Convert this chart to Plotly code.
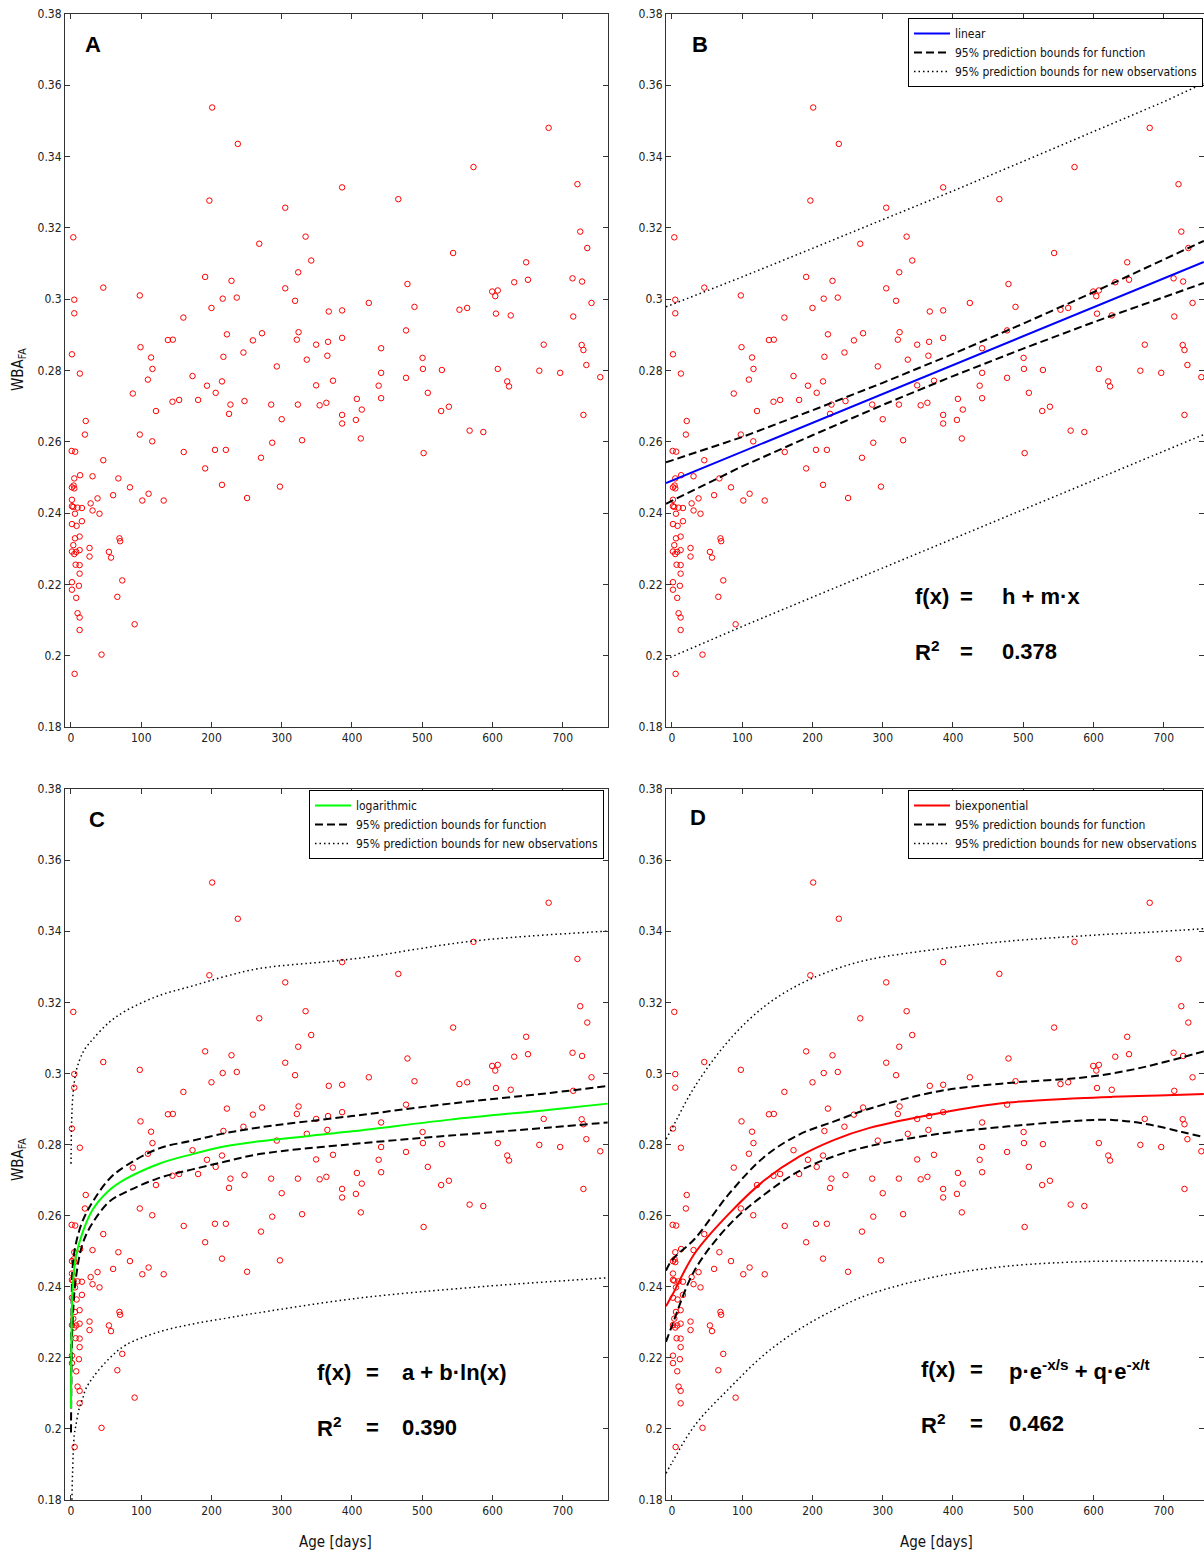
import plotly.graph_objects as go

# ---------------- data ----------------
AGE_DAYS = [201, 237.5, 197, 305, 334, 268, 3.3, 386, 466, 573, 680, 721, 725, 735, 544,
            46, 4.7, 4.7, 98, 191, 228.5, 216, 236, 200, 160, 305, 323.5, 342, 319, 367,
            222, 272, 259, 324, 321.5, 349, 366, 365, 335.7, 293, 217, 245.5, 138, 145, 99,
            114, 116, 109.5, 1.4, 12.7, 173, 193.6, 215, 206, 88, 144.5, 154, 181, 121, 247,
            227, 225, 285, 300, 323, 354, 363.6, 349, 373, 21, 19.8, 98, 115.7, 1, 6,
            46, 160.5, 205, 220.5, 270.5, 286.5, 329, 191, 4.7, 13, 30.7, 67.5, 84, 215, 297.5,
            1.4, 4.7, 3.8, 648, 631, 650.6, 714, 727.6, 741, 479, 599.6, 607.6, 604, 605, 626,
            715, 424, 386, 489, 553, 564, 477, 386, 441.5, 500.5, 501, 528, 441.5, 477, 438,
            441.5, 407, 414, 405.6, 386, 386, 412.6, 508, 527, 538, 502, 567.5, 587, 607.6, 621,
            623.6, 666.7, 696.4, 673, 727, 729.5, 733.7, 753.5, 729.5, 60, 110.5, 101.5, 132, 250.7,
            37.8, 28, 30.7, 40.6, 15.6, 1.4, 3.3, 1.4, 9.4, 5.7, 1.4, 8, 15.6, 12.3, 5.7,
            3.3, 1.4, 4.7, 7.5, 12.3, 26.4, 26.4, 69, 70, 54, 57, 6.6, 12.3, 12.3, 73,
            1.4, 11.3, 1.4, 7.5, 66, 9.4, 12.3, 12.3, 90.6, 43.5, 5.2]
WBA_FA = [0.3537, 0.3435, 0.3276, 0.3256, 0.3175, 0.3155, 0.3173, 0.3313, 0.328, 0.337, 0.348, 0.3322, 0.3189, 0.3143, 0.3129,
          0.3032, 0.2998, 0.296, 0.301, 0.3062, 0.3051, 0.3001, 0.3004, 0.2975, 0.2948, 0.303, 0.3075, 0.3108, 0.2995, 0.2965,
          0.2901, 0.2904, 0.2884, 0.2907, 0.2886, 0.2872, 0.288, 0.2841, 0.283, 0.2811, 0.2838, 0.285, 0.2885, 0.2886, 0.2865,
          0.2836, 0.2804, 0.2774, 0.2845, 0.2791, 0.2784, 0.2757, 0.2769, 0.2737, 0.2735, 0.2712, 0.2717, 0.2717, 0.2686, 0.2714,
          0.2704, 0.2678, 0.2704, 0.2663, 0.2704, 0.2702, 0.2709, 0.2758, 0.2771, 0.2658, 0.262, 0.262, 0.2601, 0.2574, 0.2572,
          0.2548, 0.2571, 0.2577, 0.2577, 0.2555, 0.2597, 0.2604, 0.2525, 0.2497, 0.2506, 0.2503, 0.2497, 0.2472, 0.2479, 0.2474,
          0.2472, 0.2469, 0.2477, 0.3103, 0.3047, 0.3054, 0.3058, 0.3049, 0.2989, 0.3042, 0.3021, 0.3024, 0.3008, 0.2959, 0.2954,
          0.2951, 0.2989, 0.2968, 0.2978, 0.297, 0.2975, 0.2912, 0.2891, 0.2862, 0.2835, 0.2804, 0.2801, 0.2793, 0.2779, 0.2757,
          0.2722, 0.272, 0.269, 0.2661, 0.2675, 0.2651, 0.2609, 0.2737, 0.2686, 0.2698, 0.2568, 0.2631, 0.2627, 0.2804, 0.2769,
          0.2755, 0.2799, 0.2793, 0.2872, 0.2871, 0.2857, 0.2815, 0.2781, 0.2675, 0.245, 0.2454, 0.2435, 0.2435, 0.2442,
          0.2441, 0.2427, 0.2407, 0.2398, 0.2414, 0.2437, 0.2417, 0.2419, 0.2415, 0.2398, 0.2369, 0.2364, 0.2377, 0.2334, 0.2329,
          0.231, 0.2292, 0.2285, 0.2291, 0.2296, 0.2302, 0.2278, 0.2329, 0.2321, 0.2291, 0.2275, 0.2255, 0.2254, 0.223, 0.2211,
          0.2206, 0.2196, 0.2185, 0.2162, 0.2165, 0.2119, 0.2107, 0.2072, 0.2088, 0.2003, 0.1949]

# panel B: linear fit and bounds
LIN_X = [-8.5, 100, 200, 300, 400, 500, 600, 700, 757]
LIN_FIT = [0.2484, 0.2572, 0.2653, 0.2734, 0.2815, 0.2896, 0.2977, 0.3058, 0.3104]
LIN_FUN_UP = [0.2542, 0.2613, 0.2688, 0.2765, 0.2846, 0.2931, 0.3019, 0.3110, 0.3163]
LIN_FUN_LO = [0.2426, 0.2531, 0.2618, 0.2703, 0.2784, 0.2861, 0.2935, 0.3006, 0.3045]
LIN_OBS_UP = [0.2978, 0.3062, 0.3142, 0.3222, 0.3303, 0.3386, 0.3470, 0.3553, 0.3605]
LIN_OBS_LO = [0.1990, 0.2082, 0.2164, 0.2246, 0.2327, 0.2408, 0.2490, 0.2572, 0.2620]

# panel C: logarithmic fit and bounds
LOG_X = [0.06, 1, 2.4, 7, 16.6, 31, 54.5, 78, 125.6, 173, 220, 268, 400, 540, 682, 764]
LOG_FIT = [0.2058, 0.2306, 0.2400, 0.2485, 0.2553, 0.2617, 0.2671, 0.2703, 0.2746, 0.2773, 0.2795, 0.2809, 0.2837, 0.2870, 0.2898, 0.2915]
LOG_FUN_UP = [0.2115, 0.2360, 0.2456, 0.2521, 0.2585, 0.2639, 0.2703, 0.2740, 0.2789, 0.2811, 0.2832, 0.2848, 0.2880, 0.2915, 0.2945, 0.2965]
LOG_FUN_LO = [0.1990, 0.2205, 0.2306, 0.2424, 0.2521, 0.2580, 0.2639, 0.2666, 0.2706, 0.2730, 0.2752, 0.2773, 0.2801, 0.2825, 0.2848, 0.2862]
LOG_OBS_X = [0.06, 1, 2.4, 4.7, 7, 11.8, 16.6, 21, 31, 54.5, 78, 125.6, 173, 220, 268, 406, 571, 764]
LOG_OBS_UP = [0.2746, 0.2870, 0.2929, 0.2975, 0.3004, 0.3035, 0.3058, 0.3072, 0.3096, 0.3144, 0.3176, 0.3219, 0.3246, 0.3273, 0.3295, 0.3323, 0.3372, 0.3400]
LOG_OBS_LO = [0.1370, 0.1750, 0.1885, 0.1983, 0.2010, 0.2058, 0.2085, 0.2112, 0.2144, 0.2198, 0.2236, 0.2273, 0.2295, 0.2311, 0.2327, 0.2367, 0.2398, 0.2425]

# panel D: biexponential fit and bounds
BEXP_X = [-8.5, 0, 32.5, 82, 132, 181, 231, 280, 380, 479, 578, 627, 677, 726, 757]
BEXP_FIT = [0.2345, 0.2375, 0.2494, 0.2607, 0.2700, 0.2766, 0.2813, 0.2846, 0.2888, 0.2918, 0.2930, 0.2934, 0.2937, 0.2940, 0.2942]
BEXP_FUN_UP = [0.2445, 0.2475, 0.2535, 0.2663, 0.2766, 0.2828, 0.2865, 0.2900, 0.2950, 0.2973, 0.2987, 0.3000, 0.3020, 0.3045, 0.3062]
BEXP_FUN_LO = [0.2245, 0.2290, 0.2447, 0.2575, 0.2660, 0.2725, 0.2767, 0.2795, 0.2830, 0.2851, 0.2867, 0.2869, 0.2857, 0.2835, 0.2821]
BEXP_OBS_UP = [0.2815, 0.2845, 0.2963, 0.3095, 0.3189, 0.3250, 0.3292, 0.3320, 0.3350, 0.3372, 0.3386, 0.3392, 0.3397, 0.3403, 0.3407]
BEXP_OBS_LO = [0.1875, 0.1905, 0.2010, 0.2115, 0.2210, 0.2280, 0.2335, 0.2378, 0.2430, 0.2458, 0.2470, 0.2472, 0.2473, 0.2472, 0.2470]

Y_TICKS = [0.18, 0.20, 0.22, 0.24, 0.26, 0.28, 0.30, 0.32, 0.34, 0.36, 0.38]
Y_TICKTEXT = ["0.18", "0.2", "0.22", "0.24", "0.26", "0.28", "0.3", "0.32", "0.34", "0.36", "0.38"]
X_TICKS = [0, 100, 200, 300, 400, 500, 600, 700]

LEGEND_LABELS = {"lin": "linear", "log": "logarithmic", "bexp": "biexponential",
                 "fun": "95% prediction bounds for function",
                 "obs": "95% prediction bounds for new observations"}

# ---------------- figure ----------------
W, H = 1204, 1554
NARROW = "Liberation Sans Narrow, Arial Narrow, DejaVu Sans Condensed, Liberation Sans, sans-serif"
BOLD = "Liberation Sans, Arial, Helvetica, sans-serif"
DASH = "8px,4px"
DOT = "1.5px,3px"

fig = go.Figure()

def scatter(ax):
    xa, ya = ax
    fig.add_trace(go.Scatter(x=AGE_DAYS, y=WBA_FA, mode="markers", xaxis=xa, yaxis=ya,
                             marker=dict(symbol="circle-open", size=5.5, color="#ff0000",
                                         line=dict(width=1, color="#ff0000")),
                             showlegend=False, hoverinfo="skip"))

def curves(ax, xs, fit, fup, flo, ox, oup, olo, color, name, legend, shape):
    xa, ya = ax
    fig.add_trace(go.Scatter(x=ox, y=oup, mode="lines", xaxis=xa, yaxis=ya, line_shape=shape,
                             line=dict(color="black", width=1.5, dash=DOT),
                             name=LEGEND_LABELS["obs"], legend=legend, legendrank=3, showlegend=True))
    fig.add_trace(go.Scatter(x=ox, y=olo, mode="lines", xaxis=xa, yaxis=ya, line_shape=shape,
                             line=dict(color="black", width=1.5, dash=DOT), showlegend=False))
    fig.add_trace(go.Scatter(x=xs, y=fup, mode="lines", xaxis=xa, yaxis=ya, line_shape=shape,
                             line=dict(color="black", width=2, dash=DASH),
                             name=LEGEND_LABELS["fun"], legend=legend, legendrank=2, showlegend=True))
    fig.add_trace(go.Scatter(x=xs, y=flo, mode="lines", xaxis=xa, yaxis=ya, line_shape=shape,
                             line=dict(color="black", width=2, dash=DASH), showlegend=False))
    fig.add_trace(go.Scatter(x=xs, y=fit, mode="lines", xaxis=xa, yaxis=ya, line_shape=shape,
                             line=dict(color=color, width=2),
                             name=name, legend=legend, legendrank=1, showlegend=True))

scatter(("x", "y"))
scatter(("x2", "y2"))
curves(("x2", "y2"), LIN_X, LIN_FIT, LIN_FUN_UP, LIN_FUN_LO, LIN_X, LIN_OBS_UP, LIN_OBS_LO,
       "#0000ff", LEGEND_LABELS["lin"], "legend2", "linear")
scatter(("x3", "y3"))
curves(("x3", "y3"), LOG_X, LOG_FIT, LOG_FUN_UP, LOG_FUN_LO, LOG_OBS_X, LOG_OBS_UP, LOG_OBS_LO,
       "#00ff00", LEGEND_LABELS["log"], "legend", "spline")
scatter(("x4", "y4"))
curves(("x4", "y4"), BEXP_X, BEXP_FIT, BEXP_FUN_UP, BEXP_FUN_LO, BEXP_X, BEXP_OBS_UP, BEXP_OBS_LO,
       "#ff0000", LEGEND_LABELS["bexp"], "legend3", "spline")

def px_x(a, b):
    return [a / W, b / W]

def px_y(top, bottom):
    return [1 - bottom / H, 1 - top / H]

axis_common = dict(showline=True, linecolor="#333333", linewidth=1, mirror="ticks",
                   ticks="inside", ticklen=5, tickwidth=1, tickcolor="#333333",
                   showgrid=False, zeroline=False, automargin=False,
                   tickfont=dict(family=NARROW, size=12, color="#222222"))

LEFT_X = px_x(65, 608)
RIGHT_X = [666 / W, 1.0]
TOP_Y = px_y(13.7, 727)
BOT_Y = px_y(789, 1500)

layout = dict(width=W, height=H, margin=dict(l=0, r=0, t=0, b=0, pad=0, autoexpand=False),
              paper_bgcolor="white", plot_bgcolor="white", showlegend=True)
panels = [("", LEFT_X, TOP_Y, [-8.5, 764.5]),
          ("2", RIGHT_X, TOP_Y, [-8.5, 757.3]),
          ("3", LEFT_X, BOT_Y, [-8.5, 764.5]),
          ("4", RIGHT_X, BOT_Y, [-8.5, 757.3])]
for suf, dx, dy, xr in panels:
    layout["xaxis" + suf] = dict(domain=dx, range=xr, anchor="y" + suf, tickvals=X_TICKS,
                                 ticktext=[str(v) for v in X_TICKS], **axis_common)
    layout["yaxis" + suf] = dict(domain=dy, range=[0.18, 0.38], anchor="x" + suf,
                                 tickvals=Y_TICKS, ticktext=Y_TICKTEXT, **axis_common)

legend_common = dict(bgcolor="white", bordercolor="black", borderwidth=1,
                     font=dict(family=NARROW, size=12, color="#111111"),
                     xanchor="right", yanchor="top", itemclick=False, itemdoubleclick=False,
                     traceorder="normal", tracegroupgap=0, itemwidth=36)
layout["legend"] = dict(x=604 / W, y=1 - 790 / H, **legend_common)
layout["legend2"] = dict(x=1203 / W, y=1 - 18 / H, **legend_common)
layout["legend3"] = dict(x=1203 / W, y=1 - 790 / H, **legend_common)
fig.update_layout(**layout)

ann = []
def letter(txt, xr, yr, x, y):
    ann.append(dict(text="<b>%s</b>" % txt, x=x, y=y, xref=xr, yref=yr, showarrow=False,
                    xanchor="center", yanchor="middle", font=dict(family=BOLD, size=22, color="black")))

letter("A", "x", "y", 31, 0.3715)
letter("B", "x2", "y2", 40, 0.3715)
letter("C", "x3", "y3", 37, 0.3713)
letter("D", "x4", "y4", 37, 0.3721)

def equation(xr, yr, x0, xeq, x1, y1, y2, formula, r2):
    f = dict(family=BOLD, size=22, color="black")
    for txt, x, y, anc in [("<b>f(x)</b>", x0, y1, "left"), ("<b>=</b>", xeq, y1, "center"),
                           ("<b>%s</b>" % formula, x1, y1, "left"),
                           ("<b>R<sup>2</sup></b>", x0, y2, "left"), ("<b>=</b>", xeq, y2, "center"),
                           ("<b>%s</b>" % r2, x1, y2, "left")]:
        ann.append(dict(text=txt, x=x, y=y, xref=xr, yref=yr, showarrow=False,
                        xanchor=anc, yanchor="middle", font=f))

equation("x2", "y2", 343, 419, 467, 0.2167, 0.2012, "h + m·x", "0.378")
equation("x3", "y3", 347, 429, 468, 0.2160, 0.2005, "a + b·ln(x)", "0.390")
equation("x4", "y4", 352, 433, 477, 0.2166, 0.2014,
         "p·e<sup>-x/s</sup> + q·e<sup>-x/t</sup>", "0.462")

for yc in (370, 1160):
    ann.append(dict(text="WBA<sub>FA</sub>", x=18 / W, y=1 - yc / H, xref="paper", yref="paper",
                    showarrow=False, textangle=-90, xanchor="center", yanchor="middle",
                    font=dict(family=NARROW, size=15, color="#111111")))
for xc in (335, 936):
    ann.append(dict(text="Age [days]", x=xc / W, y=1 - 1542 / H, xref="paper", yref="paper",
                    showarrow=False, xanchor="center", yanchor="middle",
                    font=dict(family=NARROW, size=15, color="#111111")))

fig.update_layout(annotations=ann)
fig.write_html("out.html")
